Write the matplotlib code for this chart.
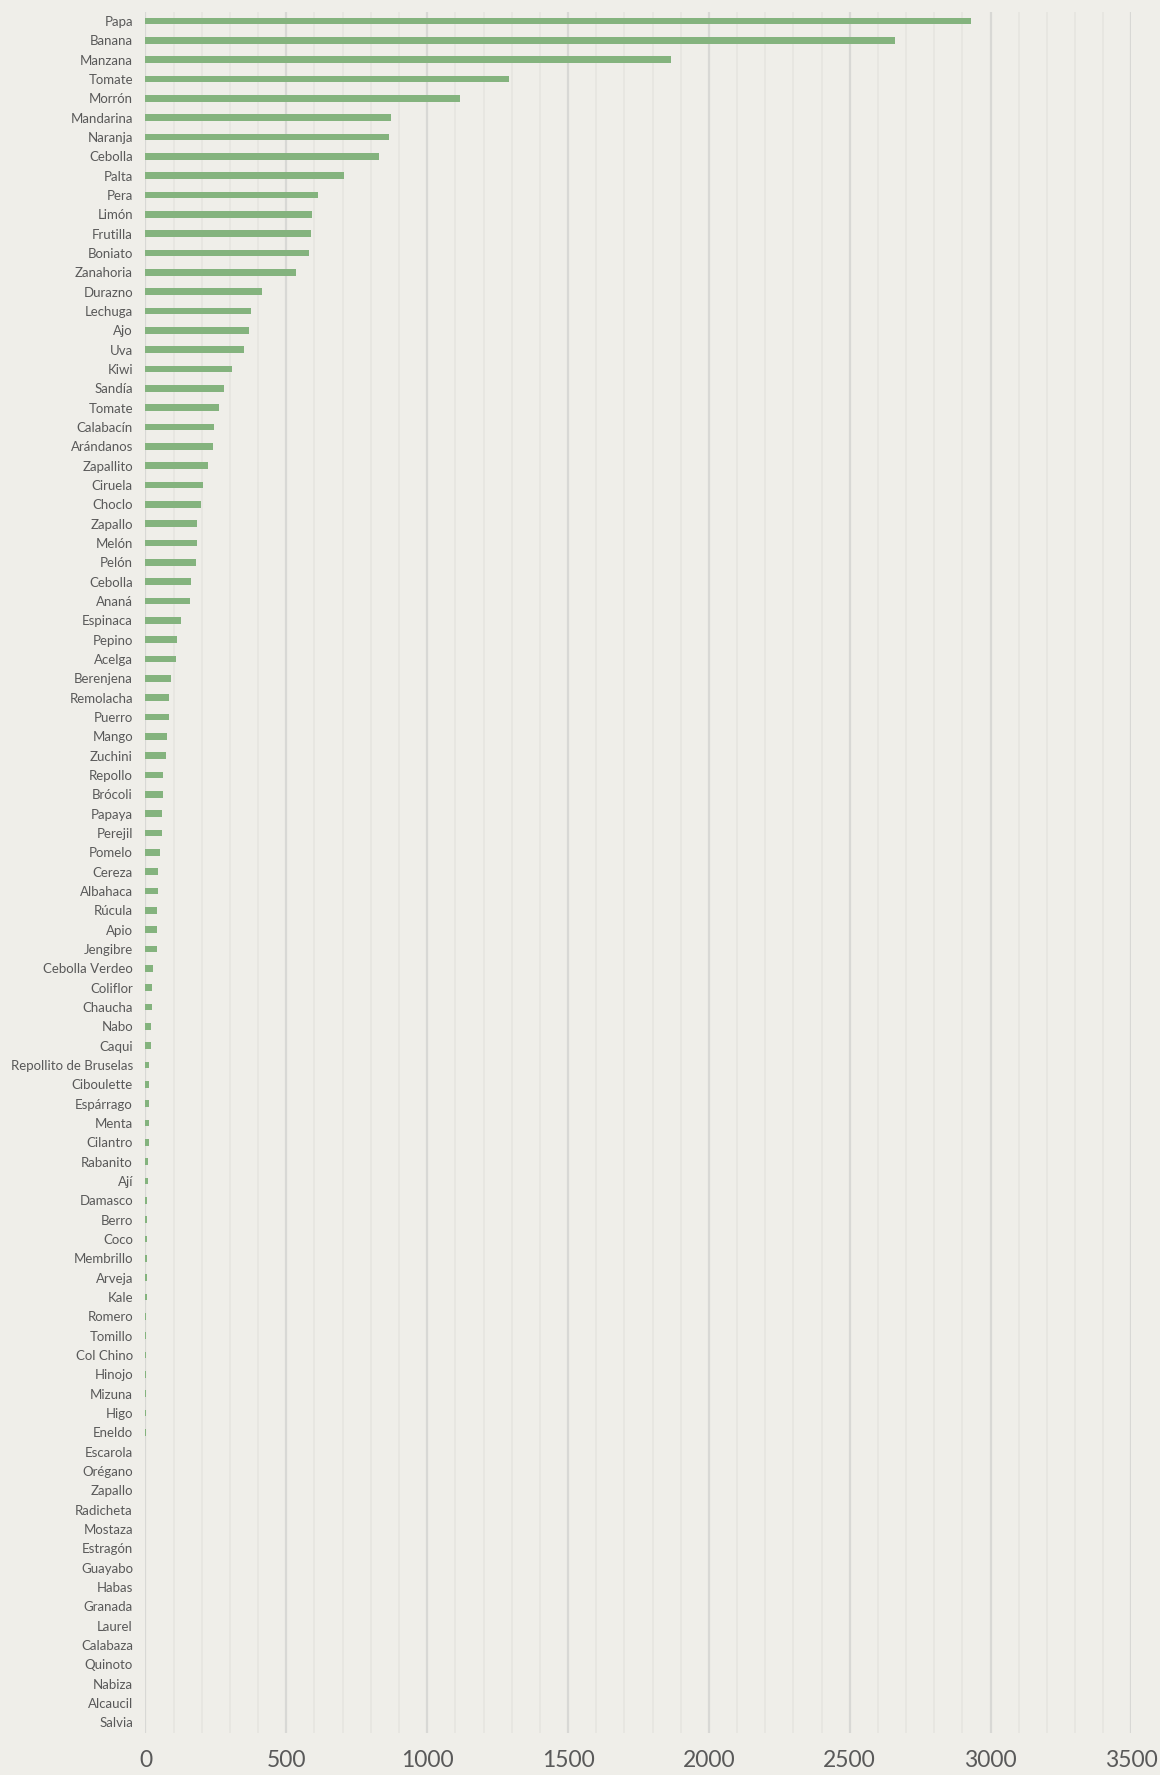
import matplotlib
matplotlib.use("Agg")
import matplotlib.pyplot as plt
from matplotlib.ticker import MultipleLocator

productos = [
    "Papa", "Banana", "Manzana", "Tomate", "Morrón", "Mandarina", "Naranja",
    "Cebolla", "Palta", "Pera", "Limón", "Frutilla", "Boniato", "Zanahoria",
    "Durazno", "Lechuga", "Ajo", "Uva", "Kiwi", "Sandía", "Tomate",
    "Calabacín", "Arándanos", "Zapallito", "Ciruela", "Choclo", "Zapallo",
    "Melón", "Pelón", "Cebolla", "Ananá", "Espinaca", "Pepino", "Acelga",
    "Berenjena", "Remolacha", "Puerro", "Mango", "Zuchini", "Repollo",
    "Brócoli", "Papaya", "Perejil", "Pomelo", "Cereza", "Albahaca", "Rúcula",
    "Apio", "Jengibre", "Cebolla Verdeo", "Coliflor", "Chaucha", "Nabo",
    "Caqui", "Repollito de Bruselas", "Ciboulette", "Espárrago", "Menta",
    "Cilantro", "Rabanito", "Ají", "Damasco", "Berro", "Coco", "Membrillo",
    "Arveja", "Kale", "Romero", "Tomillo", "Col Chino", "Hinojo", "Mizuna",
    "Higo", "Eneldo", "Escarola", "Orégano", "Zapallo", "Radicheta",
    "Mostaza", "Estragón", "Guayabo", "Habas", "Granada", "Laurel",
    "Calabaza", "Quinoto", "Nabiza", "Alcaucil", "Salvia",
]

valores = [
    2930, 2662, 1864, 1291, 1117, 872, 863, 829, 703, 611, 592, 589, 580,
    533, 414, 373, 367, 349, 307, 280, 261, 243, 241, 222, 204, 196, 183,
    182, 180, 160, 158, 126, 112, 110, 92, 85, 82, 78, 74, 64, 63, 58, 57,
    50, 46, 43, 40, 40, 40, 27, 22, 22, 19, 18, 14, 14, 13, 12, 12, 9, 9,
    6, 5, 5, 4, 4, 4, 3, 3, 2, 2, 1.5, 1.5, 1, 0, 0, 0, 0, 0,
    0, 0, 0, 0, 0, 0, 0, 0, 0, 0,
]

fondo = "#efeee9"
verde = "#84b37e"
gris_txt = "#595959"

plt.rcParams["font.family"] = ["Lato", "DejaVu Sans"]

fig = plt.figure(figsize=(11.6, 17.75), dpi=100, facecolor=fondo)
ax = fig.add_axes([0.1254, 0.0237, 0.85, 0.9697])
ax.set_facecolor(fondo)

pos = list(range(len(productos)))
ax.barh(pos, valores, height=0.35, color=verde, zorder=3)

ax.set_yticks(pos)
ax.set_yticklabels(productos, fontsize=9.5, color=gris_txt)
ax.set_ylim(88.55, -0.48)

ax.set_xlim(0, 3500)
ax.xaxis.set_major_locator(MultipleLocator(500))
ax.xaxis.set_minor_locator(MultipleLocator(100))
ax.grid(axis="x", which="major", color="#d8d8d5", linewidth=1.6, zorder=0)
ax.grid(axis="x", which="minor", color="#e7e6e1", linewidth=1.3, zorder=0)
ax.tick_params(axis="x", which="both", length=0, labelsize=16.5,
               labelcolor=gris_txt, pad=12)
ax.tick_params(axis="y", length=0, pad=9)

for s in ax.spines.values():
    s.set_visible(False)

fig.savefig("out.png", dpi=100, facecolor=fondo)
